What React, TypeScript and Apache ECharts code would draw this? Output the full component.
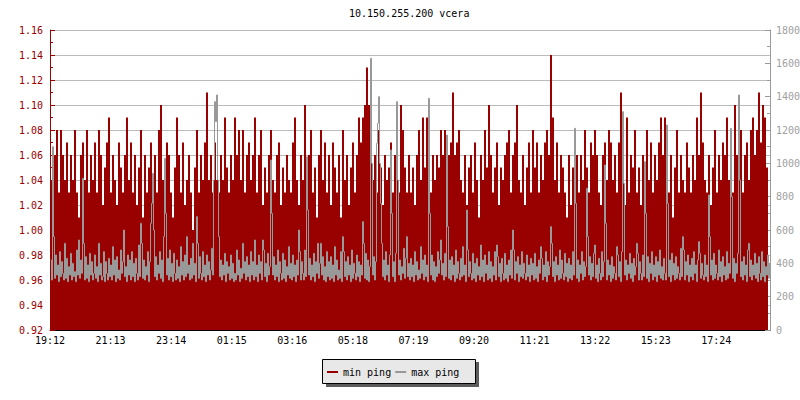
import React, { useEffect, useRef } from 'react';
import * as echarts from 'echarts';

const chartTitle = '10.150.255.200 vcera';
const timeLabels = ['19:12', '21:13', '23:14', '01:15', '03:16', '05:18', '07:19', '09:20', '11:21', '13:22', '15:23', '17:24'];
// plot width measured in label intervals
const xSpan = 11.887;
const seriesNames = ['min ping', 'max ping'];

// min ping (left axis), one sample per 2 px
const minPing = [
  1.04,1.02,1.06,1.08,1.03,1.08,1.06,1.04,1.07,1.03,1.06,1.04,1.08,1.03,1.01,1.06,1.07,1.04,1.08,1.03,
  1.06,1.04,1.07,1.03,1.08,1.06,1.02,1.05,1.07,1.09,1.03,1.06,1.04,1.02,1.07,1.05,1.03,1.06,1.09,1.04,
  1.07,1.03,1.06,1.02,1.05,1.08,1.01,1.06,1.03,1.05,1.07,1.04,1.06,1.03,1.08,1.10,1.04,1.02,1.07,1.06,
  1.03,1.01,1.05,1.09,1.06,1.03,1.07,1.02,1.04,1.06,1.03,1.00,1.05,1.08,1.03,1.06,1.04,1.07,1.11,1.04,
  1.06,1.03,1.07,1.04,1.03,1.06,1.04,1.09,1.05,1.03,1.06,1.04,1.09,1.06,1.08,1.04,1.08,1.03,1.06,1.07,
  1.04,1.06,1.09,1.03,1.06,1.08,1.02,1.05,1.03,1.06,1.08,1.04,1.03,1.06,1.07,1.02,1.05,1.03,1.06,1.04,
  1.03,1.07,1.09,1.04,1.02,1.06,1.04,1.10,1.05,1.06,1.08,1.03,1.05,1.01,1.06,1.08,1.04,1.07,1.03,1.06,
  1.02,1.07,1.05,1.03,1.06,1.01,1.08,1.04,1.06,1.02,1.05,1.07,1.03,1.06,1.09,1.07,1.09,1.10,1.13,1.10,
  1.07,1.04,1.06,1.03,1.08,1.05,1.02,1.06,1.04,1.05,1.07,1.03,1.06,1.04,1.03,1.10,1.08,1.05,1.03,1.06,
  1.03,1.05,1.02,1.06,1.08,1.04,1.09,1.05,1.09,1.07,1.03,1.06,1.04,1.06,1.05,1.08,1.06,1.08,1.07,1.06,
  1.07,1.11,1.06,1.07,1.08,1.04,1.03,1.06,1.02,1.05,1.06,1.03,1.07,1.04,1.01,1.06,1.04,1.08,1.05,1.10,
  1.06,1.03,1.05,1.07,1.02,1.05,1.04,1.06,1.07,1.08,1.03,1.06,1.07,1.10,1.04,1.03,1.06,1.02,1.05,1.07,
  1.03,1.08,1.05,1.07,1.03,1.06,1.04,1.07,1.08,1.06,1.14,1.09,1.04,1.07,1.03,1.06,1.05,1.03,1.01,1.06,
  1.02,1.05,1.07,1.06,1.03,1.06,1.04,1.08,1.05,1.03,1.07,1.06,1.08,1.06,1.03,1.02,1.06,1.07,1.04,1.08,
  1.07,1.04,1.06,1.03,1.07,1.11,1.04,1.02,1.09,1.03,1.06,1.05,1.08,1.03,1.05,1.02,1.06,1.03,1.08,1.04,
  1.07,1.03,1.06,1.04,1.07,1.09,1.06,1.09,1.05,1.03,1.06,1.01,1.05,1.08,1.03,1.06,1.04,1.03,1.07,1.05,
  1.03,1.06,1.04,1.09,1.06,1.11,1.07,1.04,1.03,1.06,1.02,1.05,1.08,1.03,1.06,1.04,1.07,1.06,1.09,1.04,
  1.06,1.03,1.10,1.06,1.04,1.08,1.03,1.06,1.07,1.04,1.08,1.09,1.06,1.08,1.11,1.07,1.10,1.09,1.05,1.03,
];

// max ping (right axis), one sample per px
const maxPing = [
  420,300,1100,560,310,450,330,390,290,470,320,410,340,300,520,310,430,290,380,330,
  460,300,400,320,350,290,480,330,540,310,420,340,910,520,300,440,310,390,290,460,
  330,410,300,340,450,310,380,290,520,330,400,300,320,470,290,410,340,300,430,320,
  390,300,500,330,420,290,440,310,360,300,480,340,410,600,320,380,290,450,330,420,
  300,470,320,400,290,430,340,300,510,320,640,520,310,420,300,380,330,470,290,410,
  640,760,940,600,320,440,300,390,340,470,310,420,290,560,1030,700,330,430,300,480,
  320,400,290,460,340,300,420,310,380,290,500,330,410,300,450,320,560,340,390,300,
  430,310,520,330,400,290,680,520,310,440,340,300,470,320,390,290,450,330,410,300,
  360,490,330,900,1370,1250,1410,900,560,320,420,300,390,330,460,290,410,340,380,300,
  450,310,400,290,340,300,480,330,420,290,370,310,520,340,410,300,440,320,390,290,
  470,330,410,300,540,320,390,290,450,340,410,300,540,480,320,400,290,460,330,380,
  1020,700,330,440,300,390,320,480,290,410,340,300,460,310,420,290,380,330,500,310,
  400,300,450,320,390,290,420,330,600,470,300,410,340,300,480,320,1040,720,330,430,
  300,390,320,460,290,410,340,520,310,400,520,330,440,300,380,290,470,320,410,300,
  440,310,390,290,500,330,420,300,360,310,470,290,560,470,320,410,300,440,330,390,
  290,480,310,400,340,300,450,320,410,290,390,330,650,520,310,460,300,420,290,380,
  1630,1000,330,440,300,410,1120,1240,1400,1000,760,520,320,420,300,470,330,390,290,450,
  1080,700,320,410,290,460,1370,900,330,420,300,380,340,490,310,430,560,320,400,300,
  430,320,390,290,470,330,410,300,360,310,500,340,420,300,450,320,390,290,1390,700,
  330,450,300,410,290,380,320,470,340,420,540,330,400,300,460,320,1170,620,310,420,
  300,440,330,390,290,480,310,410,340,300,430,320,500,330,390,290,720,480,320,410,
  340,300,460,310,400,290,430,330,380,300,510,320,420,290,450,340,390,300,470,310,
  410,290,380,330,470,300,510,440,320,400,290,430,340,300,460,310,390,290,420,330,
  480,310,600,480,300,410,340,440,290,390,320,470,310,400,340,300,450,320,390,290,
  430,330,400,300,460,310,380,290,420,340,500,430,300,390,320,470,290,410,330,380,
  620,520,320,410,290,440,330,390,300,480,310,420,340,300,460,320,400,290,430,310,
  390,300,470,330,1210,760,310,420,290,390,340,470,300,410,320,380,850,560,330,440,
  300,400,320,460,510,310,390,290,430,340,300,470,320,410,990,640,300,420,330,390,
  290,440,310,380,340,300,500,450,320,410,290,470,1310,880,330,420,300,390,340,460,
  310,400,290,430,330,380,520,460,300,410,340,300,450,320,1010,700,310,440,290,400,
  340,470,300,390,320,440,290,410,330,480,310,380,300,430,340,300,1230,760,320,420,
  290,460,330,400,300,440,310,380,340,300,490,320,560,480,300,410,330,450,290,390,
  320,430,300,470,340,390,290,420,530,460,310,400,330,300,450,320,390,290,810,560,
  330,420,300,460,310,390,340,300,480,320,410,290,440,330,380,300,470,310,400,340,
  1210,800,310,430,290,400,340,460,1410,900,320,410,300,440,330,390,290,480,520,320,
  420,300,390,330,460,310,400,290,440,340,300,470,320,410,290,380,330,450,310,400,
];

const RED = '#990000';
const GREY = '#999999';
const FONT = 'DejaVu Sans Mono';
const PLOT_W = 720;

export default function App() {
  const ref = useRef<HTMLDivElement>(null);
  useEffect(() => {
    if (!ref.current) return;
    const chart = echarts.init(ref.current, undefined, { renderer: 'svg' });
    const unitPerPx = xSpan / PLOT_W;
    const minStep = (PLOT_W / minPing.length) * unitPerPx;
    const maxStep = (PLOT_W / maxPing.length) * unitPerPx;
    const minData = minPing.map((v, i) => [i * minStep, v]);
    // grey line sits on pixel centres so its 1px strokes stay crisp
    const maxData = maxPing.map((v, i) => [i * maxStep + 0.5 * unitPerPx, v]);
    chart.setOption({
      animation: false,
      backgroundColor: '#ffffff',
      title: {
        text: chartTitle,
        left: 349,
        top: 7,
        padding: 0,
        textStyle: { fontFamily: FONT, fontSize: 10, fontWeight: 'normal', color: '#000', lineHeight: 12 },
      },
      grid: { left: 50, right: 30, top: 30, bottom: 70, containLabel: false, outerBoundsMode: 'none' },
      legend: {
        data: [
          { name: seriesNames[0], icon: 'rect' },
          { name: seriesNames[1], icon: 'rect' },
        ],
        left: 327,
        top: 366,
        padding: 0,
        itemWidth: 11,
        itemHeight: 2,
        itemGap: 4,
        z: 10,
        itemStyle: { borderWidth: 0 },
        textStyle: { fontFamily: FONT, fontSize: 10, color: '#000', lineHeight: 12 },
        selectedMode: false,
      },
      graphic: [
        { type: 'rect', z: 1, shape: { x: 326, y: 362, width: 153, height: 25 }, style: { fill: '#5c5c5c' } },
        { type: 'rect', z: 2, shape: { x: 322.5, y: 359.5, width: 153, height: 24 }, style: { fill: '#e8e8e8', stroke: '#000', lineWidth: 1 } },
      ],
      xAxis: {
        type: 'value',
        min: 0,
        max: xSpan,
        interval: 1,
        axisLine: { show: true, lineStyle: { color: '#000', width: 1 } },
        axisTick: { show: true, inside: true, length: 5, lineStyle: { color: '#000' } },
        splitLine: { show: false },
        axisLabel: {
          margin: 5,
          fontFamily: FONT,
          fontSize: 10,
          color: '#000',
          showMaxLabel: false,
          formatter: (v: number) => {
            const r = Math.round(v);
            return Math.abs(v - r) < 1e-6 && timeLabels[r] !== undefined ? timeLabels[r] : '';
          },
        },
      },
      yAxis: [
        {
          type: 'value',
          position: 'left',
          min: 0.92,
          max: 1.16,
          interval: 0.02,
          axisLine: { show: true, lineStyle: { color: RED } },
          axisTick: { show: true, inside: true, length: 5, lineStyle: { color: RED } },
          minorTick: { show: true, splitNumber: 2, length: 3, lineStyle: { color: RED } },
          splitLine: { show: true, lineStyle: { color: '#bbbbbb', width: 1 } },
          axisLabel: {
            margin: 7,
            fontFamily: FONT,
            fontSize: 10,
            color: RED,
            formatter: (v: number) => v.toFixed(2),
          },
        },
        {
          type: 'value',
          position: 'right',
          min: 0,
          max: 1800,
          interval: 200,
          axisLine: { show: true, lineStyle: { color: GREY } },
          axisTick: { show: true, inside: true, length: 5, lineStyle: { color: GREY } },
          minorTick: { show: true, splitNumber: 2, length: 3, lineStyle: { color: GREY } },
          splitLine: { show: false },
          axisLabel: {
            margin: 6,
            fontFamily: FONT,
            fontSize: 10,
            color: '#a0a0a0',
            formatter: (v: number) => String(Math.round(v)),
          },
        },
      ],
      series: [
        {
          name: seriesNames[0],
          type: 'line',
          yAxisIndex: 0,
          data: minData,
          step: 'end',
          showSymbol: false,
          symbol: 'none',
          color: RED,
          lineStyle: { color: RED, width: 0 },
          areaStyle: { color: RED, opacity: 1, origin: 'start' },
          silent: true,
          z: 2,
        },
        {
          name: seriesNames[1],
          type: 'line',
          yAxisIndex: 1,
          data: maxData,
          step: 'end',
          showSymbol: false,
          symbol: 'none',
          color: GREY,
          lineStyle: { color: GREY, width: 1 },
          silent: true,
          z: 3,
        },
      ],
    });
    return () => chart.dispose();
  }, []);
  return <div ref={ref} style={{ position: 'absolute', left: 0, top: 0, width: 800, height: 400 }} />;
}
